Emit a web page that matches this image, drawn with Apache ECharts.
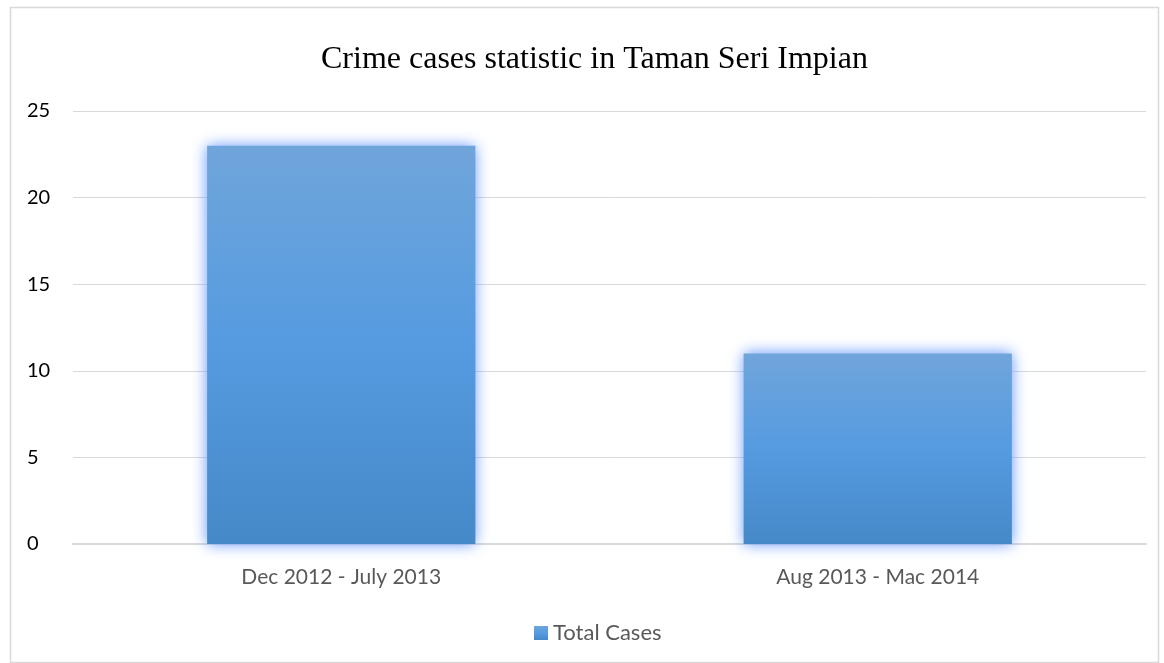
<!DOCTYPE html>
<html>
<head>
<meta charset="utf-8">
<script src="https://cdn.jsdelivr.net/npm/echarts@6/dist/echarts.min.js"></script>
<style>html,body{margin:0;padding:0;background:#fff;}#c{width:1164px;height:663px;}</style>
</head>
<body>
<div id="c"></div>
<script>
const categories = ['Dec 2012 - July 2013', 'Aug 2013 - Mac 2014'];
const totalCases = [23, 11];
const yTicks = [0, 5, 10, 15, 20, 25];
const titleText = 'Crime cases statistic in Taman Seri Impian';
const seriesName = 'Total Cases';

const chart = echarts.init(document.getElementById('c'));
chart.setOption({
  animation: false,
  graphic: [{
    type: 'rect', left: 8, top: 5, shape: {width: 1148, height: 655},
    style: {fill: 'none', stroke: '#d9d9d9', lineWidth: 1.5}, silent: true, z: -1
  }],
  title: {
    text: titleText, left: 316, top: 39,
    textStyle: {fontFamily: 'Liberation Serif', fontSize: 32, fontWeight: 'normal', color: '#000'}
  },
  legend: {
    top: 617, left: 529, icon: 'rect', itemWidth: 14, itemHeight: 14, itemGap: 6,
    textStyle: {fontFamily: 'Lato', fontSize: 22, color: '#595959'},
    data: [seriesName]
  },
  grid: {left: 73, right: 18, top: 111, bottom: 119, containLabel: false},
  xAxis: {
    type: 'category', data: categories,
    axisLine: {lineStyle: {color: '#d9d9d9', width: 2}},
    axisTick: {show: false},
    axisLabel: {fontFamily: 'Lato', fontSize: 21, color: '#595959', margin: 23}
  },
  yAxis: {
    type: 'value', min: yTicks[0], max: yTicks[yTicks.length - 1], interval: 5,
    axisLine: {show: false}, axisTick: {show: false},
    splitLine: {lineStyle: {color: '#d9d9d9', width: 1}},
    axisLabel: {fontFamily: 'Lato', fontSize: 20, color: '#000', margin: 46, align: 'left'}
  },
  series: [{
    name: seriesName, type: 'bar', data: totalCases, barWidth: '50%',
    itemStyle: {
      color: new echarts.graphic.LinearGradient(0, 0, 0, 1, [
        {offset: 0, color: '#70a5db'},
        {offset: 0.5, color: '#559be0'},
        {offset: 1, color: '#4589c8'}
      ]),
      shadowColor: 'rgba(100,150,255,1)', shadowBlur: 14
    }
  }]
});
</script>
</body>
</html>
